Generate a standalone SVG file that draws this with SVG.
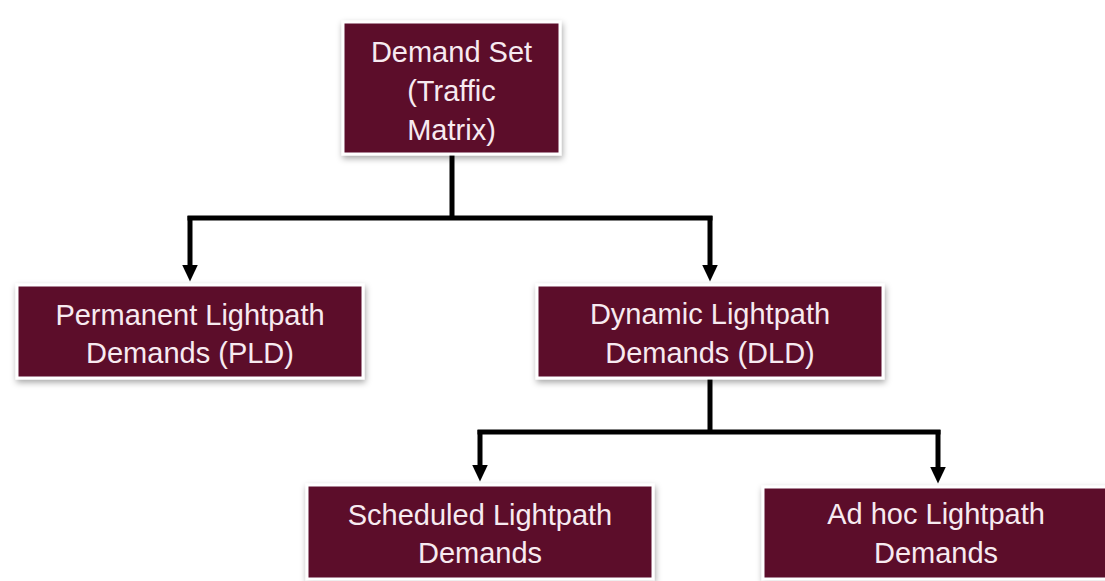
<svg xmlns="http://www.w3.org/2000/svg" width="1105" height="581" viewBox="0 0 1105 581">
<style>
.box{fill:#5b0a2c;stroke:#ffffff;stroke-width:3;filter:url(#sh)}
.lbl{font-family:"Liberation Sans",Arial,sans-serif;font-size:29px;fill:#f7eaf0;text-anchor:middle}
.con{fill:none;stroke:#000;stroke-width:5;stroke-linejoin:miter}
</style>
<defs>
<filter id="sh" x="-10%" y="-10%" width="120%" height="130%">
<feDropShadow dx="1" dy="3" stdDeviation="3" flood-color="#000" flood-opacity="0.35"/>
</filter>
<marker id="ah" markerWidth="3.4" markerHeight="3.4" refX="1.7" refY="1.7" orient="auto" markerUnits="strokeWidth" viewBox="0 0 3.4 3.4">
<path d="M0,0.1 L3.4,1.7 L0,3.3 Z" fill="#000"/>
</marker>
</defs>
<rect width="1105" height="581" fill="#fff"/>
<g id="connectors">
<path class="con" d="M452,154 V218 M187.5,218 H712.5"/>
<path class="con" d="M190,216 V273" marker-end="url(#ah)"/>
<path class="con" d="M710,216 V273" marker-end="url(#ah)"/>
<path class="con" d="M710,378 V432 M477.5,432 H940.5"/>
<path class="con" d="M480,430 V473" marker-end="url(#ah)"/>
<path class="con" d="M938,430 V475" marker-end="url(#ah)"/>
</g>
<g id="demand-set">
<rect class="box" x="343" y="22" width="217" height="132"/>
<text class="lbl" x="451.5" y="62">Demand Set</text>
<text class="lbl" x="451.5" y="101">(Traffic</text>
<text class="lbl" x="451.5" y="140">Matrix)</text>
</g>
<g id="pld">
<rect class="box" x="17" y="285" width="346" height="93"/>
<text class="lbl" x="190" y="325">Permanent Lightpath</text>
<text class="lbl" x="190" y="363">Demands (PLD)</text>
</g>
<g id="dld">
<rect class="box" x="537" y="285" width="346" height="93"/>
<text class="lbl" x="710" y="324">Dynamic Lightpath</text>
<text class="lbl" x="710" y="363">Demands (DLD)</text>
</g>
<g id="scheduled">
<rect class="box" x="307" y="485" width="346" height="94"/>
<text class="lbl" x="480" y="525">Scheduled Lightpath</text>
<text class="lbl" x="480" y="563">Demands</text>
</g>
<g id="adhoc">
<rect class="box" x="763" y="487" width="346" height="92"/>
<text class="lbl" x="936" y="524">Ad hoc Lightpath</text>
<text class="lbl" x="936" y="563">Demands</text>
</g>
</svg>
